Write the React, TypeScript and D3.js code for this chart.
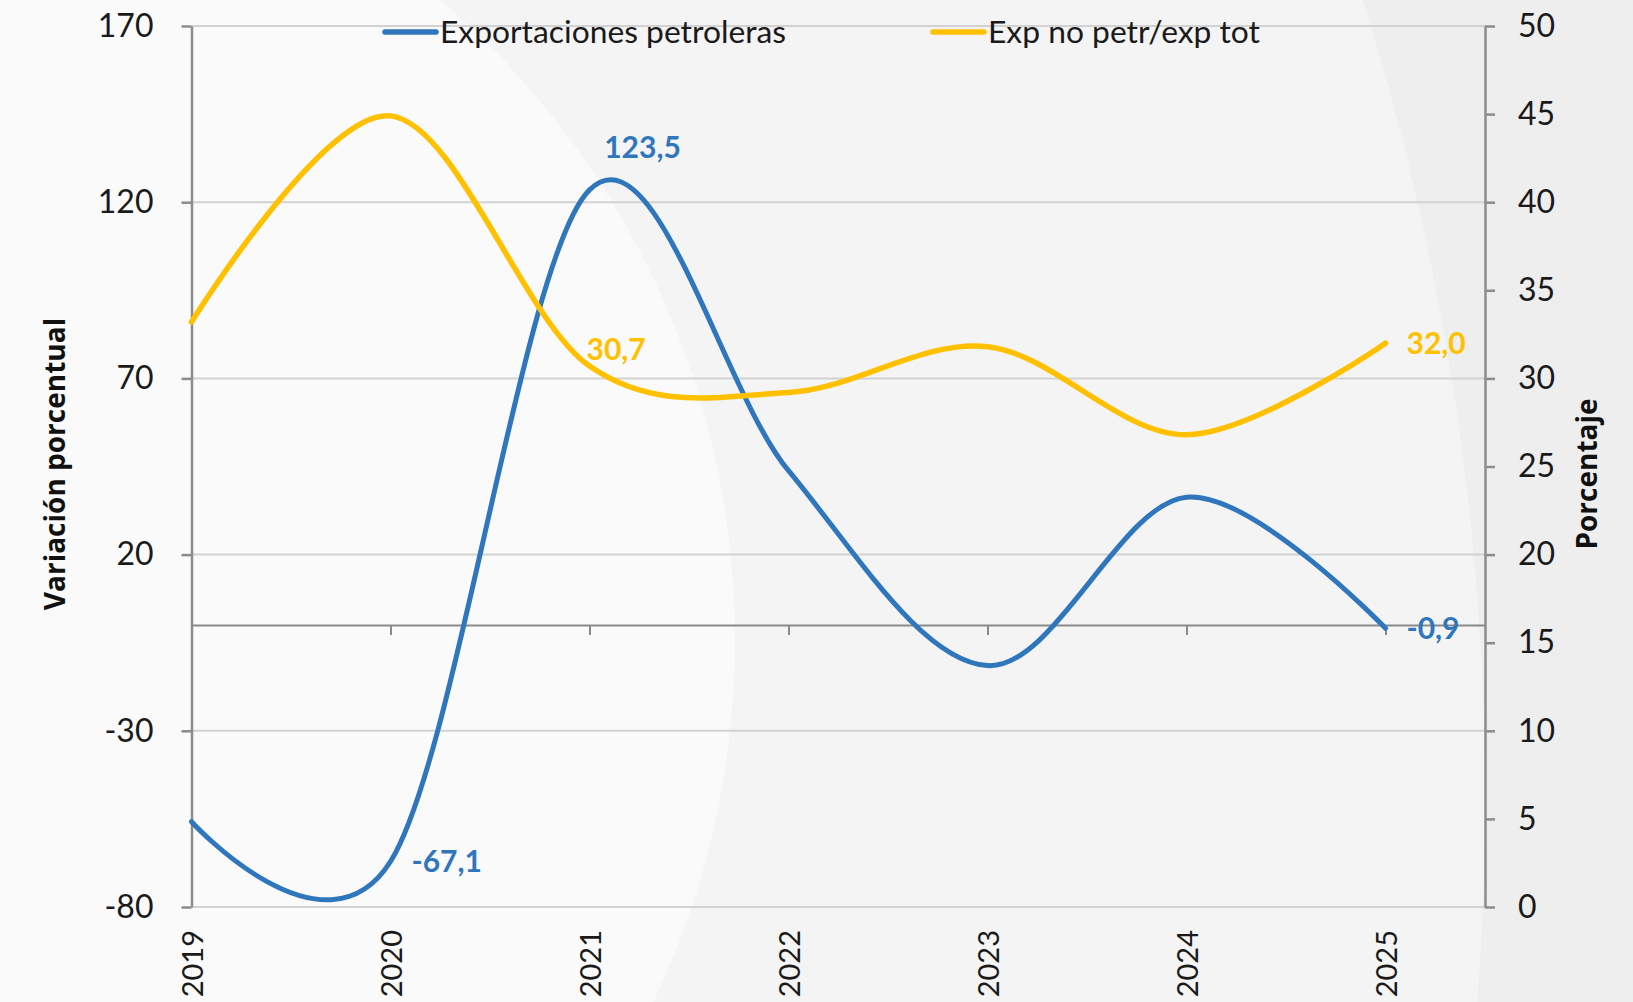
import React, { useRef, useEffect } from "react";
import * as d3 from "d3";

// data
const years = [2019, 2020, 2021, 2022, 2023, 2024, 2025];
const petroleras = [-55.8, -67.1, 123.5, 43.8, -11.5, 36.3, -0.9];
const noPetrShare = [33.2, 44.9, 30.7, 29.2, 31.8, 26.8, 32.0];
const leftTicks = [-80, -30, 20, 70, 120, 170];
const rightTicks = [0, 5, 10, 15, 20, 25, 30, 35, 40, 45, 50];
const seriesNames = ["Exportaciones petroleras", "Exp no petr/exp tot"];
const leftTitle = "Variación porcentual";
const rightTitle = "Porcentaje";

const W = 1633;
const H = 1002;
const BLUE = "#2f76bc";
const GOLD = "#ffc000";
const FONT = "Lato, 'Open Sans', sans-serif";

const fmt = (v: number) => d3.format(".1f")(v).replace(".", ",").replace("−", "-");
const tickFmt = (v: number) => String(v); // plain hyphen, not unicode minus

function App() {
  const svgRef = useRef<SVGSVGElement | null>(null);

  useEffect(() => {
    const svg = d3.select(svgRef.current);
    svg.selectAll("*").remove();

    const x = d3.scaleLinear().domain([2019, 2025.5]).range([191.5, 1485]);
    const yL = d3.scaleLinear().domain([-80, 170]).range([907, 26]);
    const yR = d3.scaleLinear().domain([0, 50]).range([907, 26]);

    // background shapes
    svg.append("rect").attr("width", W).attr("height", H).attr("fill", "#eeeeee");
    svg.append("circle").attr("cx", -1199).attr("cy", 800).attr("r", 2684).attr("fill", "#f4f4f4");
    svg.append("circle").attr("cx", -107).attr("cy", 640).attr("r", 842).attr("fill", "#fafafa");

    // gridlines
    svg
      .append("g")
      .selectAll("line")
      .data(leftTicks)
      .join("line")
      .attr("x1", x(2019))
      .attr("x2", x(2025.5))
      .attr("y1", (d) => yL(d))
      .attr("y2", (d) => yL(d))
      .attr("stroke", "#d2d2d2")
      .attr("stroke-width", 2);

    // category axis at zero
    const xAxis = d3
      .axisBottom(x)
      .tickValues(years)
      .tickSize(10)
      .tickSizeOuter(0)
      .tickFormat(() => "");
    const gx = svg.append("g").attr("transform", `translate(0,${yL(0)})`).call(xAxis);
    gx.selectAll("path, line").attr("stroke", "#8a8a8a").attr("stroke-width", 2);

    // year labels, rotated
    svg
      .append("g")
      .selectAll("text")
      .data(years)
      .join("text")
      .attr("transform", (d) => `translate(${x(d) + 11},930) rotate(-90)`)
      .attr("text-anchor", "end")
      .attr("font-family", FONT)
      .attr("font-size", 29)
      .attr("fill", "#1a1a1a")
      .text((d) => d);

    // left axis
    const gl = svg
      .append("g")
      .attr("transform", `translate(${x(2019)},0)`)
      .call(
        d3
          .axisLeft(yL)
          .tickValues(leftTicks)
          .tickFormat(tickFmt)
          .tickSize(10)
          .tickSizeOuter(0)
          .tickPadding(28)
      );
    gl.selectAll("path, line").attr("stroke", "#8c8c8c").attr("stroke-width", 2.5);
    gl.selectAll("text").attr("font-family", FONT).attr("font-size", 32).attr("fill", "#1a1a1a");

    // right axis
    const gr = svg
      .append("g")
      .attr("transform", `translate(${x(2025.5)},0)`)
      .call(
        d3
          .axisRight(yR)
          .tickValues(rightTicks)
          .tickFormat(tickFmt)
          .tickSize(10)
          .tickSizeOuter(0)
          .tickPadding(23)
      );
    gr.selectAll("path, line").attr("stroke", "#8c8c8c").attr("stroke-width", 2.5);
    gr.selectAll("text").attr("font-family", FONT).attr("font-size", 32).attr("fill", "#1a1a1a");

    // axis titles
    svg
      .append("text")
      .attr("transform", `translate(65,464) rotate(-90)`)
      .attr("text-anchor", "middle")
      .attr("font-family", "'Open Sans', sans-serif")
      .attr("font-weight", 700)
      .attr("font-size", 28)
      .attr("fill", "#111")
      .text(leftTitle);
    svg
      .append("text")
      .attr("transform", `translate(1597,474) rotate(-90)`)
      .attr("text-anchor", "middle")
      .attr("font-family", "'Open Sans', sans-serif")
      .attr("font-weight", 700)
      .attr("font-size", 28)
      .attr("fill", "#111")
      .text(rightTitle);

    // lines
    const curve = d3.curveCardinal.tension(0);
    const lineL = d3
      .line<number>()
      .x((_, i) => x(years[i]))
      .y((d) => yL(d))
      .curve(curve);
    const lineR = d3
      .line<number>()
      .x((_, i) => x(years[i]))
      .y((d) => yR(d))
      .curve(curve);

    svg
      .append("path")
      .datum(petroleras)
      .attr("d", lineL)
      .attr("fill", "none")
      .attr("stroke", BLUE)
      .attr("stroke-width", 5)
      .attr("stroke-linecap", "round");
    svg
      .append("path")
      .datum(noPetrShare)
      .attr("d", lineR)
      .attr("fill", "none")
      .attr("stroke", GOLD)
      .attr("stroke-width", 5.5)
      .attr("stroke-linecap", "round");

    // data labels
    const labels = [
      { v: petroleras, i: 1, y: yL, color: BLUE, dx: 21, dy: 0, anchor: "start" },
      { v: petroleras, i: 2, y: yL, color: BLUE, dx: 53, dy: -43, anchor: "middle" },
      { v: petroleras, i: 6, y: yL, color: BLUE, dx: 21, dy: 0, anchor: "start" },
      { v: noPetrShare, i: 2, y: yR, color: GOLD, dx: -3, dy: -17, anchor: "start" },
      { v: noPetrShare, i: 6, y: yR, color: GOLD, dx: 21, dy: 0, anchor: "start" },
    ];
    svg
      .append("g")
      .selectAll("text")
      .data(labels)
      .join("text")
      .attr("x", (d) => x(years[d.i]) + d.dx)
      .attr("y", (d) => d.y(d.v[d.i]) + d.dy)
      .attr("dy", "0.36em")
      .attr("text-anchor", (d) => d.anchor)
      .attr("font-family", FONT)
      .attr("font-weight", 700)
      .attr("font-size", 30)
      .attr("fill", (d) => d.color)
      .text((d) => fmt(d.v[d.i]));

    // legend
    const legend = [
      { name: seriesNames[0], color: BLUE, x0: 385 },
      { name: seriesNames[1], color: GOLD, x0: 933 },
    ];
    const lg = svg.append("g").selectAll("g").data(legend).join("g");
    lg.append("line")
      .attr("x1", (d) => d.x0)
      .attr("x2", (d) => d.x0 + 51)
      .attr("y1", 32)
      .attr("y2", 32)
      .attr("stroke", (d) => d.color)
      .attr("stroke-width", 5.5)
      .attr("stroke-linecap", "round");
    lg.append("text")
      .attr("x", (d) => d.x0 + 55)
      .attr("y", 43)
      .attr("font-family", FONT)
      .attr("font-size", 31.8)
      .attr("fill", "#1a1a1a")
      .text((d) => d.name);
  }, []);

  return (
    <svg
      ref={svgRef}
      width={W}
      height={H}
      style={{ position: "absolute", left: 0, top: 0, display: "block" }}
    />
  );
}

export default App;
